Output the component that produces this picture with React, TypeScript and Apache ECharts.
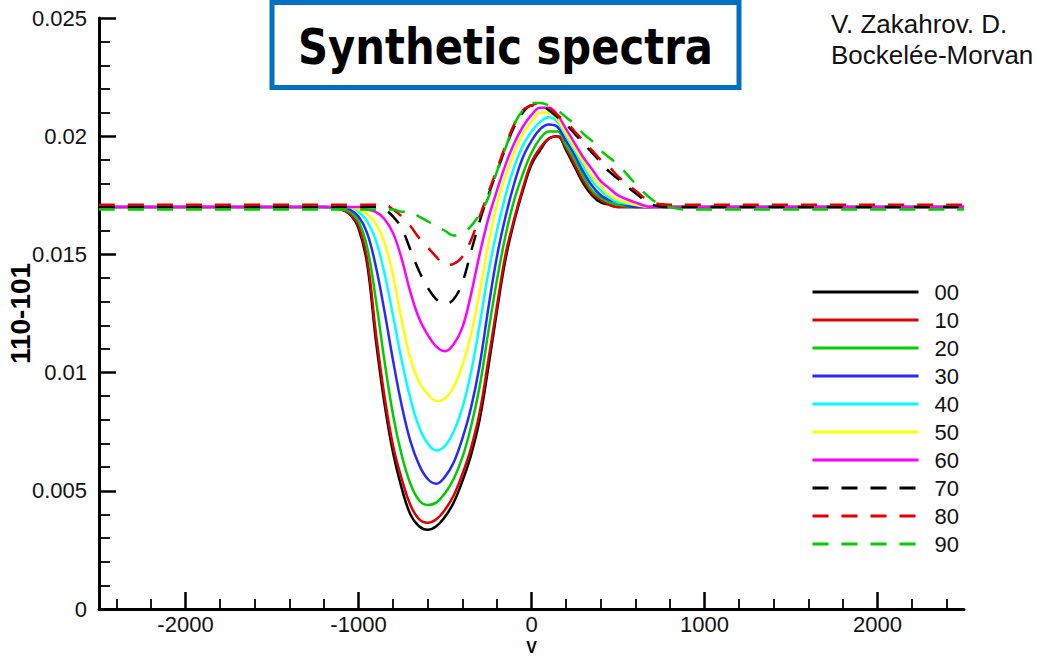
import React, { useEffect, useRef } from "react";
import * as echarts from "echarts";

// velocity grid (x values)
const V = [-2500, -1300, -1200, -1100, -1050, -1000, -950, -900, -850, -800, -750, -700, -650, -600, -550, -500, -450, -400, -350, -300, -250, -200, -150, -100, -50, 0, 50, 100, 150, 200, 250, 300, 350, 400, 450, 500, 600, 700, 800, 900, 1000, 2500];

const s00 = [0.0170, 0.0170, 0.0170, 0.0169, 0.0167, 0.0161, 0.0146, 0.0114, 0.0087, 0.0066, 0.0051, 0.0040, 0.0035, 0.00335, 0.0035, 0.0039, 0.0045, 0.0054, 0.0065, 0.0080, 0.0102, 0.0126, 0.0148, 0.0164, 0.0177, 0.0188, 0.0194, 0.0199, 0.0200, 0.0194, 0.0187, 0.0180, 0.0175, 0.0172, 0.0171, 0.0170, 0.0170, 0.0170, 0.0170, 0.0170, 0.0170, 0.0170];
const s10 = [0.0170, 0.0170, 0.0170, 0.0169, 0.0167, 0.0162, 0.0148, 0.0117, 0.0090, 0.0069, 0.0055, 0.0044, 0.0038, 0.00365, 0.0038, 0.0042, 0.0048, 0.0057, 0.0068, 0.0083, 0.0105, 0.0128, 0.0150, 0.0165, 0.0178, 0.0189, 0.0195, 0.0199, 0.0200, 0.0195, 0.0188, 0.0181, 0.0176, 0.0173, 0.0171, 0.0170, 0.0170, 0.0170, 0.0170, 0.0170, 0.0170, 0.0170];
const s20 = [0.0170, 0.0170, 0.0170, 0.0169, 0.0168, 0.0164, 0.0153, 0.0131, 0.0105, 0.0082, 0.0065, 0.0053, 0.0046, 0.0044, 0.0045, 0.0049, 0.0055, 0.0064, 0.0077, 0.0094, 0.0117, 0.0139, 0.0158, 0.0173, 0.0184, 0.0193, 0.0199, 0.0202, 0.0202, 0.0196, 0.0190, 0.0183, 0.0177, 0.0174, 0.0172, 0.0171, 0.0170, 0.0170, 0.0170, 0.0170, 0.0170, 0.0170];
const s30 = [0.0170, 0.0170, 0.0170, 0.0170, 0.0169, 0.0166, 0.0159, 0.0145, 0.0126, 0.0105, 0.0086, 0.0071, 0.0061, 0.0055, 0.0053, 0.0056, 0.0062, 0.0072, 0.0085, 0.0103, 0.0127, 0.0149, 0.0166, 0.0180, 0.0191, 0.0198, 0.0203, 0.0205, 0.0204, 0.0198, 0.0192, 0.0185, 0.0179, 0.0175, 0.0173, 0.0172, 0.0170, 0.0170, 0.0170, 0.0170, 0.0170, 0.0170];
const s40 = [0.0170, 0.0170, 0.0170, 0.0170, 0.0170, 0.0168, 0.0164, 0.0156, 0.0142, 0.0124, 0.0105, 0.0089, 0.0077, 0.0070, 0.0067, 0.0069, 0.0075, 0.0085, 0.0100, 0.0120, 0.0142, 0.0160, 0.0175, 0.0187, 0.0196, 0.0202, 0.0206, 0.0208, 0.0206, 0.0200, 0.0194, 0.0187, 0.0181, 0.0177, 0.0174, 0.0172, 0.0171, 0.0170, 0.0170, 0.0170, 0.0170, 0.0170];
const s50 = [0.0170, 0.0170, 0.0170, 0.0170, 0.0170, 0.0169, 0.0167, 0.0163, 0.0155, 0.0141, 0.0122, 0.0106, 0.0096, 0.0091, 0.0088, 0.0089, 0.0094, 0.0103, 0.0116, 0.0134, 0.0154, 0.0171, 0.0183, 0.0193, 0.0201, 0.0206, 0.0210, 0.0210, 0.0207, 0.0201, 0.0195, 0.0189, 0.0183, 0.0179, 0.0175, 0.0173, 0.0171, 0.0170, 0.0170, 0.0170, 0.0170, 0.0170];
const s60 = [0.0170, 0.0170, 0.0170, 0.0170, 0.0170, 0.0170, 0.0169, 0.0168, 0.0165, 0.0159, 0.0148, 0.0134, 0.0123, 0.0116, 0.0111, 0.0109, 0.0112, 0.0119, 0.0133, 0.0150, 0.0165, 0.0177, 0.0188, 0.0197, 0.0204, 0.0209, 0.0212, 0.0212, 0.0209, 0.0203, 0.0197, 0.0191, 0.0186, 0.0181, 0.0178, 0.0175, 0.0172, 0.0170, 0.0170, 0.0170, 0.0170, 0.0170];
const s70 = [0.0170, 0.0170, 0.0170, 0.0170, 0.0170, 0.0170, 0.0170, 0.0170, 0.0169, 0.0166, 0.0161, 0.0152, 0.0143, 0.0136, 0.0131, 0.0129, 0.0131, 0.0138, 0.0151, 0.0164, 0.0175, 0.0185, 0.0195, 0.0204, 0.0210, 0.0213, 0.0213, 0.0211, 0.0208, 0.0205, 0.0201, 0.0197, 0.0193, 0.0189, 0.0185, 0.0182, 0.0176, 0.0171, 0.0170, 0.0170, 0.0170, 0.0170];
const s80 = [0.0171, 0.0171, 0.0171, 0.0171, 0.0171, 0.0171, 0.0171, 0.0171, 0.0171, 0.0169, 0.0166, 0.0162, 0.0157, 0.0153, 0.0149, 0.01455, 0.0146, 0.0149, 0.0156, 0.0166, 0.0176, 0.0186, 0.0196, 0.0205, 0.0211, 0.0213, 0.0214, 0.0212, 0.0209, 0.0206, 0.0202, 0.0198, 0.0194, 0.0190, 0.0187, 0.0183, 0.0177, 0.0172, 0.0171, 0.0171, 0.0171, 0.0171];
const s90 = [0.0169, 0.0169, 0.0169, 0.0169, 0.0169, 0.0169, 0.0169, 0.0169, 0.0169, 0.0169, 0.0168, 0.0168, 0.0166, 0.0164, 0.0162, 0.0160, 0.0158, 0.0159, 0.0162, 0.0167, 0.0174, 0.0185, 0.0195, 0.0205, 0.0211, 0.0214, 0.0214, 0.0213, 0.0211, 0.0208, 0.0205, 0.0201, 0.0198, 0.0194, 0.0191, 0.0188, 0.0180, 0.0173, 0.0170, 0.0169, 0.0169, 0.0169];

const names = ["00", "10", "20", "30", "40", "50", "60", "70", "80", "90"];
const seriesValues = [s00, s10, s20, s30, s40, s50, s60, s70, s80, s90];
const colors = ["#000000", "#e00000", "#00cc00", "#2828ff", "#00ffff", "#ffff00", "#ff00ff", "#000000", "#e00000", "#00cc00"];
const dashed = [false, false, false, false, false, false, false, true, true, true];

const xMajorTicks = [-2000, -1000, 0, 1000, 2000];
const xMinorTicks = [-2400, -2200, -1800, -1600, -1400, -1200, -800, -600, -400, -200, 200, 400, 600, 800, 1200, 1400, 1600, 1800, 2200, 2400];

const FONT = '"Liberation Sans", Arial, Helvetica, sans-serif';

export default function App() {
  const ref = useRef<HTMLDivElement>(null);
  useEffect(() => {
    if (!ref.current) return;
    const chart = echarts.init(ref.current, null, { renderer: "svg" });
    const axisColor = "#000";
    const option: any = {
      animation: false,
      backgroundColor: "#ffffff",
      grid: { left: 99, right: 78, top: 18, bottom: 47, containLabel: false, outerBoundsMode: "none" },
      legend: {
        orient: "vertical",
        left: 811,
        top: 281,
        padding: 0,
        itemWidth: 106,
        itemHeight: 14,
        itemGap: 6,
        itemStyle: { opacity: 0 },
        lineStyle: { width: 3 },
        textStyle: { fontSize: 22, color: "#111", fontFamily: FONT, padding: [0, 0, 0, 11] },
        data: names,
      },
      xAxis: [
        {
          type: "value",
          min: -2500,
          max: 2500,
          position: "bottom",
          axisLine: { show: true, onZero: false, lineStyle: { color: axisColor, width: 3 } },
          axisTick: { show: true, inside: true, length: 17, customValues: xMajorTicks, lineStyle: { color: axisColor, width: 2.5 } },
          axisLabel: {
            customValues: xMajorTicks,
            fontSize: 22,
            color: "#111",
            margin: 4,
            fontFamily: FONT,
            formatter: (v: number) => String(v),
          },
          splitLine: { show: false },
          name: "V",
          nameLocation: "middle",
          nameGap: 30,
          nameMoveOverlap: false,
          nameTextStyle: { fontSize: 16, fontWeight: "bold", color: "#000", fontFamily: FONT },
        },
        {
          type: "value",
          min: -2500,
          max: 2500,
          position: "bottom",
          axisLine: { show: false, onZero: false },
          axisTick: { show: true, inside: true, length: 10, customValues: xMinorTicks, lineStyle: { color: axisColor, width: 1.8 } },
          axisLabel: { show: false },
          splitLine: { show: false },
        },
      ],
      yAxis: {
        type: "value",
        min: 0,
        max: 0.025,
        interval: 0.005,
        axisLine: { show: true, onZero: false, lineStyle: { color: axisColor, width: 3 } },
        axisTick: { show: true, inside: true, length: 17, lineStyle: { color: axisColor, width: 2.5 } },
        minorTick: { show: true, splitNumber: 5, length: 11, lineStyle: { color: axisColor, width: 1.8 } },
        axisLabel: { fontSize: 22, color: "#111", margin: 12, fontFamily: FONT },
        splitLine: { show: false },
        name: "110-101",
        nameLocation: "middle",
        nameRotate: 90,
        nameGap: 65,
        nameMoveOverlap: false,
        nameTextStyle: { fontSize: 28, fontWeight: "bold", color: "#000", fontFamily: FONT },
      },
      series: names.map((n, i) => ({
        name: n,
        type: "line",
        xAxisIndex: 0,
        data: V.map((v, j) => [v, seriesValues[i][j]]),
        symbol: "none",
        showSymbol: false,
        smooth: 0.4,
        color: colors[i],
        lineStyle: { color: colors[i], width: 2.5, type: dashed[i] ? [16, 13] : "solid" },
        z: 2 + i,
      })),
      graphic: [
        {
          type: "rect",
          shape: { x: 272, y: 2.5, width: 467, height: 85 },
          style: { fill: "#ffffff", stroke: "#0070c0", lineWidth: 5 },
          z: 100,
        },
        {
          type: "text",
          x: 505.5,
          y: 47,
          scaleX: 0.835,
          style: {
            text: "Synthetic spectra",
            font: 'bold 50px "Comic Sans MS", "DejaVu Sans", sans-serif',
            fill: "#000",
            align: "center",
            verticalAlign: "middle",
          },
          z: 101,
        },
        {
          type: "text",
          x: 831,
          y: 8,
          style: {
            text: "V. Zakahrov. D.\nBockelée-Morvan",
            fontSize: 26,
            fontFamily: FONT,
            lineHeight: 31,
            fill: "#111",
            verticalAlign: "top",
          },
          z: 101,
        },
      ],
    };
    chart.setOption(option);
    return () => chart.dispose();
  }, []);
  return <div ref={ref} style={{ position: "fixed", left: 0, top: 0, width: 1042, height: 656, background: "#fff" }} />;
}
